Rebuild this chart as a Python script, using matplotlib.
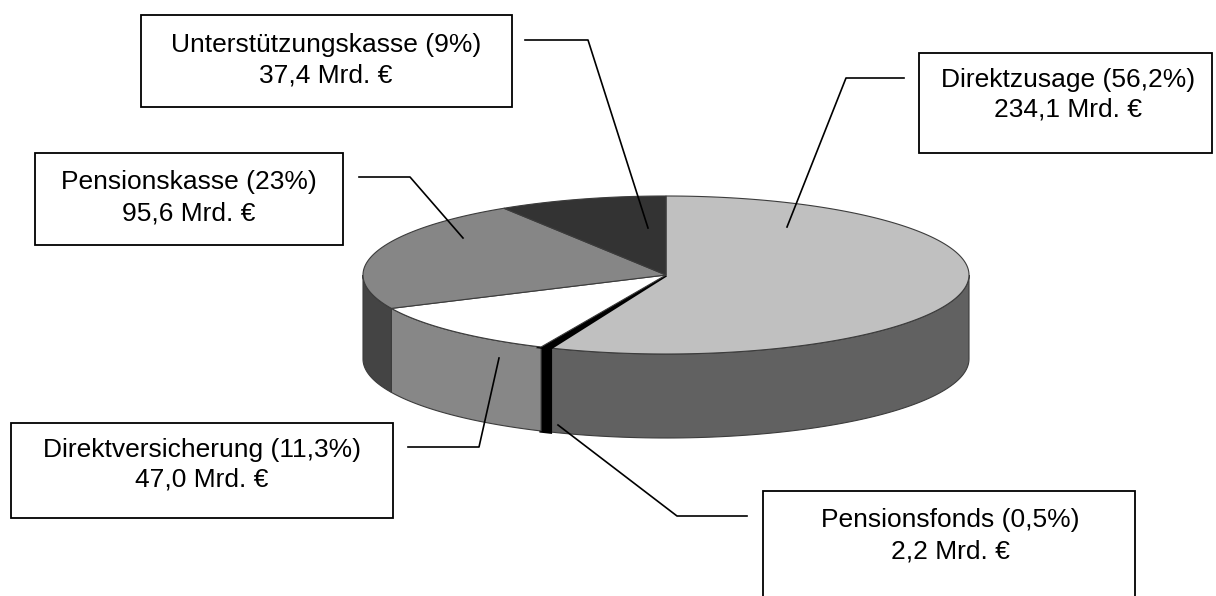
import numpy as np
import matplotlib.pyplot as plt
from matplotlib.patches import Polygon, Rectangle

# --- data (Mrd. EUR) ---
names = ['Direktzusage', 'Pensionsfonds', 'Direktversicherung',
         'Pensionskasse', 'Unterstützungskasse']
values = [234.1, 2.2, 47.0, 95.6, 37.4]
pct_labels = ['56,2%', '0,5%', '11,3%', '23%', '9%']
amount_labels = ['234,1 Mrd. €', '2,2 Mrd. €', '47,0 Mrd. €',
                 '95,6 Mrd. €', '37,4 Mrd. €']

# --- styles ---
top_colors = ['#c0c0c0', '#000000', '#ffffff', '#868686', '#333333']
side_colors = ['#616161', '#000000', '#878787', '#444444', '#222222']
edge_colors = ['#3c3c3c', '#000000', '#3c3c3c', '#3c3c3c', '#3c3c3c']
edge_widths = [0.8, 2.5, 0.8, 0.8, 0.8]

# pie geometry in pixels
cx, cy, a, b, depth = 666, 275, 303, 79, 84

# label layout: box (x0, y0, x1, y1), text centre x, line ys, leader points
boxes = {
    'Direktzusage': ((919, 53, 1212, 153), 1068, (80, 110), [(904, 78), (846, 78), (787, 227)]),
    'Pensionsfonds': ((763, 491, 1135, 604), 950, (520, 551), [(747, 516), (677, 516), (558, 425)]),
    'Direktversicherung': ((11, 423, 393, 518), 202, (450, 480), [(408, 447), (479, 447), (499, 358)]),
    'Pensionskasse': ((35, 153, 343, 245), 189, (182, 213), [(359, 177), (410, 177), (463, 238)]),
    'Unterstützungskasse': ((141, 15, 512, 107), 326, (45, 75), [(525, 40), (588, 40), (648, 228)]),
}

plt.rcParams['font.family'] = ['Liberation Sans', 'DejaVu Sans']

fig = plt.figure(figsize=(12.16, 5.96), dpi=100, facecolor='white')
ax = fig.add_axes([0, 0, 1, 1])
ax.set_xlim(0, 1216)
ax.set_ylim(596, 0)
ax.axis('off')


def rim(t_deg, dy=0.0):
    t = np.radians(t_deg)
    return np.column_stack([cx + a * np.cos(t), cy - b * np.sin(t) + dy])


total = sum(values)
cum = np.concatenate([[0], np.cumsum(values)])
starts = 90 - 360 * cum[:-1] / total
ends = 90 - 360 * cum[1:] / total

# side walls (front half only)
for t0, t1, col, ec, lw in zip(starts, ends, side_colors, edge_colors, edge_widths):
    hi, lo = min(t0, 0), max(t1, -180)
    if lo >= hi:
        continue
    ts = np.linspace(hi, lo, 80)
    pts = np.vstack([rim(ts), rim(ts[::-1], depth)])
    ax.add_patch(Polygon(pts, closed=True, facecolor=col, edgecolor=ec, lw=lw))

# top faces
for t0, t1, col, ec, lw in zip(starts, ends, top_colors, edge_colors, edge_widths):
    ts = np.linspace(t0, t1, 200)
    pts = np.vstack([[cx, cy], rim(ts)])
    ax.add_patch(Polygon(pts, closed=True, facecolor=col, edgecolor=ec, lw=lw))

# label boxes and leader lines
for name, pct, amount in zip(names, pct_labels, amount_labels):
    (x0, y0, x1, y1), tx, (ty1, ty2), leader = boxes[name]
    ax.add_patch(Rectangle((x0, y0), x1 - x0, y1 - y0, facecolor='white',
                           edgecolor='black', lw=1.3, clip_on=False))
    ax.text(tx, ty1, f'{name} ({pct})', ha='center', va='center', fontsize=19)
    ax.text(tx, ty2, amount, ha='center', va='center', fontsize=19)
    lx, ly = zip(*leader)
    ax.plot(lx, ly, color='black', lw=1.2)

fig.savefig('out.png', dpi=100, facecolor='white')
plt.close(fig)
